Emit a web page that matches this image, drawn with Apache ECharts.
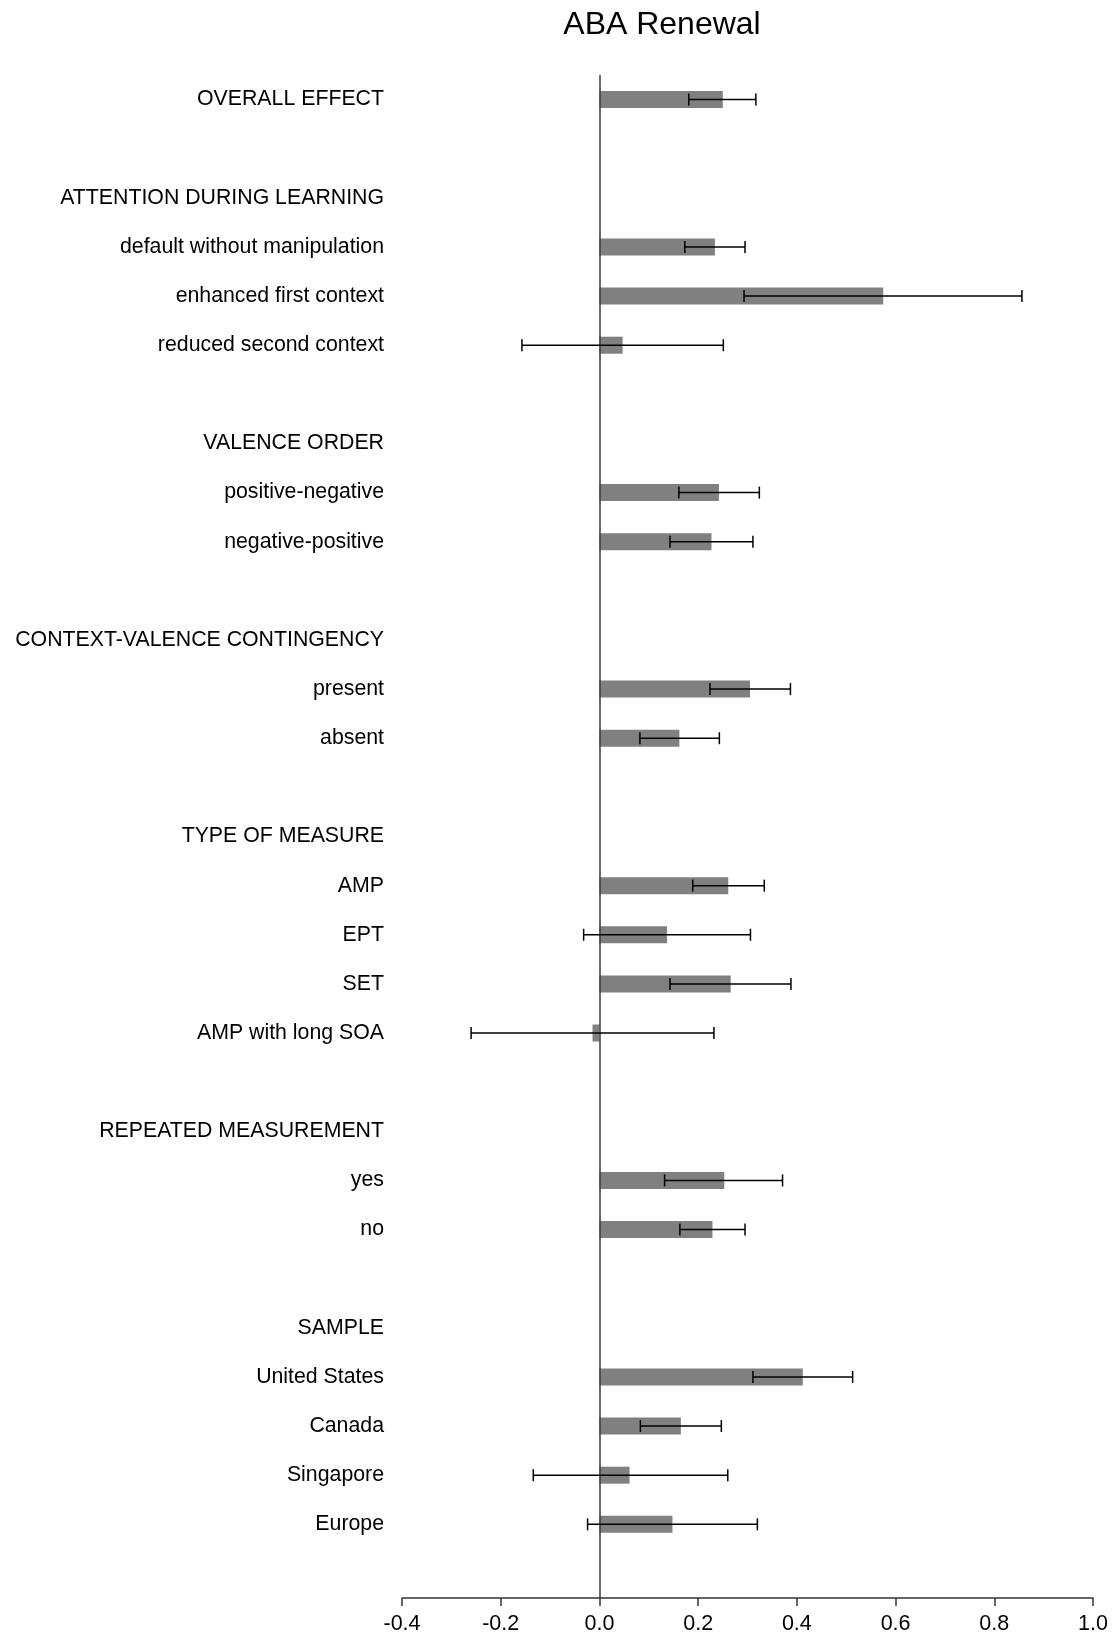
<!DOCTYPE html>
<html>
<head>
<meta charset="utf-8">
<title>ABA Renewal</title>
<script src="https://cdn.jsdelivr.net/npm/echarts@6/dist/echarts.min.js"></script>
<style>
  html, body { margin: 0; padding: 0; background: #fff; }
  #chart { width: 1113px; height: 1635px; }
</style>
</head>
<body>
<div id="chart"></div>
<script>
// Row labels from top to bottom; '' marks spacer rows between moderator groups.
const rowLabels = [
  'OVERALL EFFECT', '',
  'ATTENTION DURING LEARNING', 'default without manipulation', 'enhanced first context', 'reduced second context', '',
  'VALENCE ORDER', 'positive-negative', 'negative-positive', '',
  'CONTEXT-VALENCE CONTINGENCY', 'present', 'absent', '',
  'TYPE OF MEASURE', 'AMP', 'EPT', 'SET', 'AMP with long SOA', '',
  'REPEATED MEASUREMENT', 'yes', 'no', '',
  'SAMPLE', 'United States', 'Canada', 'Singapore', 'Europe', ''
];

// Effect size per row (null for headers and spacers).
const effect = [
  0.250, null,
  null, 0.234, 0.575, 0.047, null,
  null, 0.242, 0.227, null,
  null, 0.305, 0.162, null,
  null, 0.261, 0.137, 0.266, -0.014, null,
  null, 0.253, 0.229, null,
  null, 0.412, 0.165, 0.061, 0.148, null
];

// Lower and upper confidence limits per row.
const ciLow = [
  0.181, null,
  null, 0.173, 0.293, -0.157, null,
  null, 0.161, 0.143, null,
  null, 0.224, 0.082, null,
  null, 0.189, -0.032, 0.143, -0.260, null,
  null, 0.132, 0.163, null,
  null, 0.311, 0.083, -0.134, -0.024, null
];
const ciHigh = [
  0.317, null,
  null, 0.295, 0.856, 0.251, null,
  null, 0.324, 0.311, null,
  null, 0.387, 0.243, null,
  null, 0.334, 0.306, 0.388, 0.232, null,
  null, 0.371, 0.295, null,
  null, 0.513, 0.247, 0.260, 0.320, null
];

// Value axis ticks.
const xTicks = { min: -0.4, max: 1.0, step: 0.2 };

const rowIds = rowLabels.map((_, i) => String(i));
const errorData = [];
rowLabels.forEach((_, i) => {
  if (ciLow[i] !== null && ciHigh[i] !== null) errorData.push([i, ciLow[i], ciHigh[i]]);
});

const FONT = '"Liberation Sans", Arial, sans-serif';
const chart = echarts.init(document.getElementById('chart'), null, { renderer: 'canvas' });

chart.setOption({
  backgroundColor: '#ffffff',
  animation: false,
  title: {
    text: 'ABA Renewal',
    left: 657,
    textAlign: 'center',
    top: 4,
    textStyle: { fontFamily: FONT, fontSize: 32, fontWeight: 'normal', color: '#000' }
  },
  grid: { left: 402, right: 20, top: 75, bottom: 37 },
  xAxis: {
    type: 'value',
    min: xTicks.min,
    max: xTicks.max,
    interval: xTicks.step,
    axisLine: { show: true, onZero: false, lineStyle: { color: '#333', width: 1.5 } },
    axisTick: { show: true, length: 8, lineStyle: { color: '#333', width: 1.5 } },
    splitLine: { show: false },
    axisLabel: {
      fontFamily: FONT, fontSize: 21.5, color: '#000', margin: 15,
      formatter: v => v.toFixed(1)
    }
  },
  yAxis: {
    type: 'category',
    inverse: true,
    data: rowIds,
    axisLine: { show: false },
    axisTick: { show: false },
    splitLine: { show: false },
    axisLabel: {
      interval: 0,
      margin: 18,
      padding: [4, 0, 0, 0],
      fontFamily: FONT, fontSize: 21.3, color: '#000',
      formatter: (v) => rowLabels[Number(v)]
    }
  },
  series: [
    {
      type: 'bar',
      data: effect,
      barWidth: 17,
      itemStyle: { color: '#808080' },
      markLine: {
        silent: true,
        symbol: 'none',
        label: { show: false },
        lineStyle: { color: '#3a3a3a', width: 1.5, type: 'solid' },
        data: [{ xAxis: 0 }]
      }
    },
    {
      type: 'custom',
      data: errorData,
      z: 5,
      encode: { x: [1, 2], y: 0 },
      renderItem: (params, api) => {
        const row = api.value(0);
        const lo = api.coord([api.value(1), row]);
        const hi = api.coord([api.value(2), row]);
        const y = lo[1];
        const cap = 6;
        const style = { stroke: '#000', lineWidth: 1.5 };
        return {
          type: 'group',
          children: [
            { type: 'line', shape: { x1: lo[0], y1: y, x2: hi[0], y2: y }, style },
            { type: 'line', shape: { x1: lo[0], y1: y - cap, x2: lo[0], y2: y + cap }, style },
            { type: 'line', shape: { x1: hi[0], y1: y - cap, x2: hi[0], y2: y + cap }, style }
          ]
        };
      }
    }
  ]
});
</script>
</body>
</html>
